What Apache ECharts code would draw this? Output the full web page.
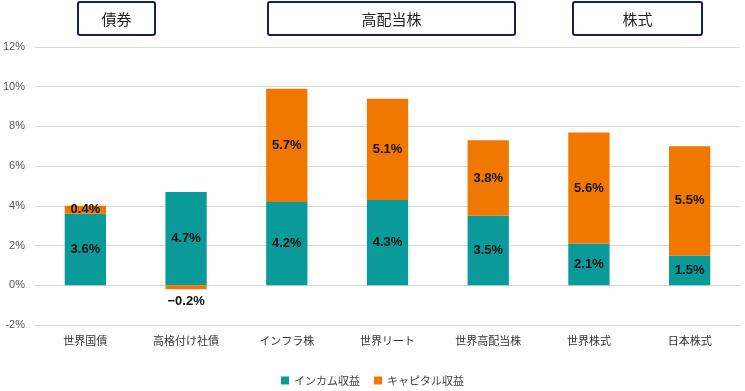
<!DOCTYPE html>
<html><head><meta charset="utf-8">
<script src="https://cdn.jsdelivr.net/npm/echarts@6/dist/echarts.min.js"></script>
<style>html,body{margin:0;padding:0;background:#fff}#c{width:745px;height:391px}</style>
</head><body><div id="c"></div>
<script>
const categories = ['世界国債','高格付け社債','インフラ株','世界リート','世界高配当株','世界株式','日本株式'];
const incomeValues = [3.6, 4.7, 4.2, 4.3, 3.5, 2.1, 1.5];
const capitalValues = [0.4, -0.2, 5.7, 5.1, 3.8, 5.6, 5.5];
const seriesNames = ['インカム収益','キャピタル収益'];
const groupLabels = ['債券','高配当株','株式'];

const font = "'Noto Sans CJK JP', 'Noto Sans', sans-serif";
const chart = echarts.init(document.getElementById('c'));
const labelStyle = {show:true, formatter: p => (p.value < 0 ? '\u2212' + Math.abs(p.value).toFixed(1) : p.value.toFixed(1)) + '%',
  color:'#111', fontWeight:'bold', fontSize:13, fontFamily:'Arial, Liberation Sans, sans-serif'};
function box(x,w,text){
  return {type:'group', children:[
    {type:'rect', shape:{x:x,y:2,width:w,height:33,r:2}, style:{fill:'#fff',stroke:'#14205a',lineWidth:2}},
    {type:'text', x:x+w/2, y:19, style:{text:text,fill:'#222',font:'15px '+font,align:'center',verticalAlign:'middle'}}
  ]};
}
chart.setOption({
  animation:false,
  grid:{left:34,right:5,top:47,bottom:66},
  legend:{top:373,left:'center',itemWidth:8,itemHeight:8,itemGap:14,icon:'rect',padding:[2,5],
    textStyle:{fontSize:11,color:'#444',fontFamily:font}},
  xAxis:{type:'category',data:categories,axisLine:{show:false},axisTick:{show:false},
    axisLabel:{fontSize:11,color:'#333',fontFamily:font,margin:10}},
  yAxis:{type:'value',min:-2,max:12,interval:2,
    axisLabel:{formatter:v=>v+'%',fontSize:11,color:'#555',fontFamily:'Arial, Liberation Sans, sans-serif',margin:10},
    splitLine:{lineStyle:{color:'#d9d9d9',width:1}}},
  series:[
    {name:seriesNames[0],type:'bar',stack:'s',data:incomeValues,barWidth:'41%',
      itemStyle:{color:'#0a9a9a'},label:Object.assign({position:'inside'},labelStyle)},
    {name:seriesNames[1],type:'bar',stack:'s',data:capitalValues.map(v=>v<0?{value:v,label:{position:'bottom',distance:6}}:v),
      itemStyle:{color:'#f07800'},label:Object.assign({position:'inside'},labelStyle)}
  ],
  graphic:[box(78,77,groupLabels[0]),box(268,247,groupLabels[1]),box(573,129,groupLabels[2])]
});
</script></body></html>
